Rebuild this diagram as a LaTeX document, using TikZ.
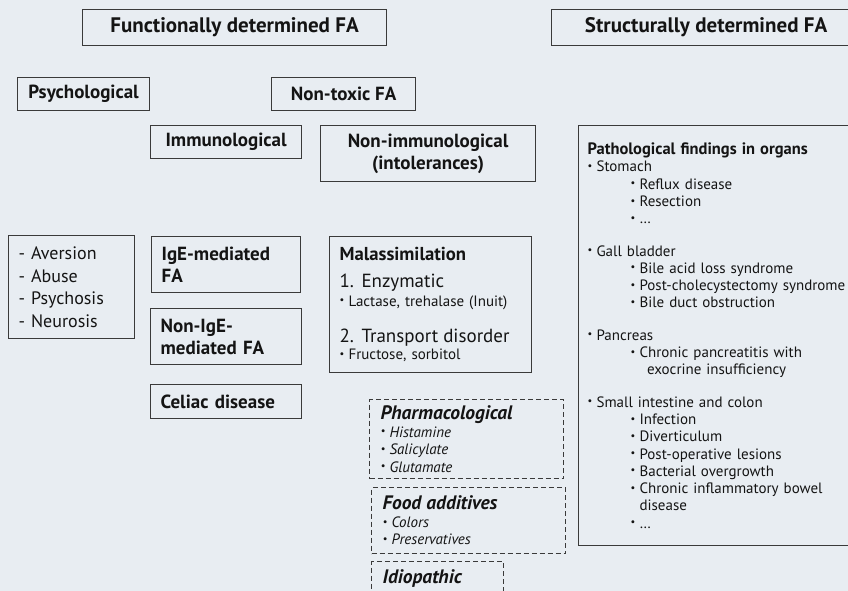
\documentclass[tikz,border=0pt]{standalone}
\usepackage{fontspec}
\setmainfont{PT Sans}
\definecolor{panelbg}{HTML}{E8EDF2}
\definecolor{frame}{HTML}{3A3A3A}
\definecolor{ink}{HTML}{141414}
% small raised bullet and an indented one
\newcommand{\bt}{\raisebox{0.16em}{\scalebox{0.7}{\textbullet}}\hspace{0.28em}}
\newcommand{\subitm}{\hspace*{43pt}\bt}
\newcommand{\subcont}{\hspace*{43pt}\phantom{\bt}}

\begin{document}
\begin{tikzpicture}[
    x=1pt, y=-1pt,
    font=\fontsize{15}{17.3}\selectfont,
    box/.style={draw=frame, line width=1.2pt, inner sep=0pt, anchor=north west,
                text=ink},
    head/.style={box, font=\fontsize{21}{24}\selectfont\bfseries, align=center},
    cat/.style={box, font=\fontsize{19}{22}\selectfont\bfseries, align=center},
    leftbox/.style={box, align=left, inner xsep=10pt},
    catleft/.style={leftbox, font=\fontsize{19}{22}\selectfont\bfseries},
    dbox/.style={box, dash pattern=on 5pt off 3pt, align=left, inner xsep=11pt,
                 font=\fontsize{15}{17.5}\selectfont\itshape},
]
\fill[panelbg] (0,0) rectangle (848,591);
\useasboundingbox (0,0) rectangle (848,591);
\clip (0,0) rectangle (848,591);

% ---- top row ----
\node[head, minimum width=304, minimum height=36] (funcfa) at (82,9)
    {Functionally determined FA};
\node[head, minimum width=309, minimum height=36] (structfa) at (551,9)
    {Structurally determined FA};

% ---- functional branches ----
\node[cat, minimum width=132, minimum height=33] (psych) at (17,77) {Psychological};
\node[cat, minimum width=144, minimum height=33] (nontox) at (271,77) {Non-toxic FA};
\node[cat, minimum width=151, minimum height=33] (immuno) at (150,125) {Immunological};
\node[cat, minimum width=215, minimum height=56] (nonimmuno) at (320,125)
    {Non-immunological\\(intolerances)};

% ---- psychological ----
\node[leftbox, text width=106, minimum height=103,
      font=\fontsize{18}{22.5}\selectfont] (psychlist) at (8,235)
    {- Aversion\\- Abuse\\- Psychosis\\- Neurosis};

% ---- immunological ----
\node[catleft, text width=129, minimum height=56] (ige) at (151,236) {IgE-mediated\\FA};
\node[catleft, text width=131, minimum height=56] (nonige) at (150,308) {Non-IgE-\\mediated FA};
\node[catleft, text width=131, minimum height=34] (celiac) at (150,384) {Celiac disease};

% ---- non-immunological ----
\node[leftbox, text width=182, minimum height=136] (malass) at (329,236)
    {{\fontsize{18.7}{20}\selectfont\bfseries Malassimilation}\\[10pt]
     {\fontsize{19}{22}\selectfont 1. Enzymatic}\\[1pt]
     \bt Lactase, trehalase (Inuit)\\[19pt]
     {\fontsize{19}{22}\selectfont 2. Transport disorder}\\
     \bt Fructose, sorbitol};

\node[dbox, text width=172, minimum height=79] (pharma) at (369,399)
    {{\fontsize{19.5}{21}\selectfont\bfseries Pharmacological}\\
     \bt Histamine\\ \bt Salicylate\\ \bt Glutamate};
\node[dbox, text width=172, minimum height=66] (additives) at (371,487)
    {{\fontsize{19.5}{21}\selectfont\bfseries Food additives}\\
     \bt Colors\\ \bt Preservatives};
\node[dbox, text width=110, minimum height=34] (idio) at (371,561)
    {{\fontsize{19.5}{21}\selectfont\bfseries Idiopathic}};

% ---- structural ----
\node[leftbox, inner xsep=9pt, text width=262, minimum height=420] (organs) at (578,125)
    {{\fontsize{16.5}{18}\selectfont\bfseries Pathological findings in organs}\\
     \bt Stomach\\
     \subitm Reflux disease\\
     \subitm Resection\\
     \subitm \dots\\[15pt]
     \bt Gall bladder\\
     \subitm Bile acid loss syndrome\\
     \subitm Post-cholecystectomy syndrome\\
     \subitm Bile duct obstruction\\[15pt]
     \bt Pancreas\\
     \subitm Chronic pancreatitis with\\
     \subcont\, exocrine insufficiency\\[15pt]
     \bt Small intestine and colon\\
     \subitm Infection\\
     \subitm Diverticulum\\
     \subitm Post-operative lesions\\
     \subitm Bacterial overgrowth\\
     \subitm Chronic inflammatory bowel\\
     \subcont disease\\
     \subitm \dots};
\end{tikzpicture}
\end{document}
